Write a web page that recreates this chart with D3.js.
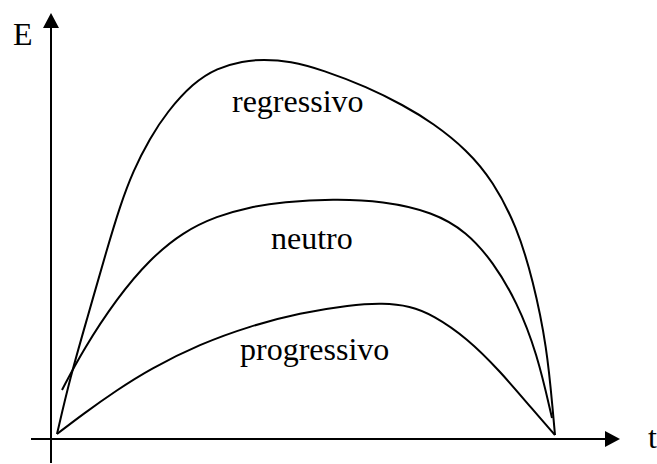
<!DOCTYPE html>
<html>
<head>
<meta charset="utf-8">
<script src="https://cdn.jsdelivr.net/npm/d3@7"></script>
<style>
  body { margin: 0; background: #fff; }
  text { font-family: "Liberation Serif", "Times New Roman", serif; font-size: 32px; fill: #000; }
</style>
</head>
<body>
<script>
// curve points, [t, E]
var regressivo = [[1.2,1.25],[3.8,15.25],[7.2,30],[11.2,47.5],[13.8,58.25],[16.4,67],[19.8,75.25],
  [23.2,81.75],[28.4,89],[33.2,92.75],[38.4,94.5],[42.4,94.9],[47.8,94.5],[54.4,92.25],[63.2,88],
  [70.4,83.5],[76.4,79],[83.2,72.25],[88.4,64.5],[93.2,53],[96.4,39.75],[99.2,23],[100.4,6.5],[100.8,1]];
var neutro = [[2.2,12.25],[6.4,22.25],[13.2,35.25],[19.8,45],[26.4,51.75],[33.2,55.75],[39.8,58],
  [46.4,59.25],[56.4,60],[66.4,59.5],[76.4,56.75],[83.2,51.75],[88.4,44.25],[93.2,34.25],[97.2,21.5],
  [100.2,5.25]];
var progressivo = [[1.2,1.25],[6.4,6.25],[13.2,12.25],[19.8,17.5],[29.8,23.75],[39.8,28.25],[49.8,31.5],
  [59.8,33.5],[66.4,34],[71.8,33.25],[76.4,31],[83.2,25.25],[89.8,17],[96.4,7.25],[100.8,1]];

var labels = [
  {text: "regressivo", t: 36.2, E: 81.75},
  {text: "neutro", t: 44, E: 47.5},
  {text: "progressivo", t: 37.8, E: 19.75}
];

var width = 657, height = 464;

var x = d3.scaleLinear().domain([0, 100]).range([51, 551]);
var y = d3.scaleLinear().domain([0, 100]).range([439, 39]);

var svg = d3.select("body").append("svg")
  .attr("width", width)
  .attr("height", height);

// axes
svg.append("line")
  .attr("x1", x(-4)).attr("y1", y(0))
  .attr("x2", x(111)).attr("y2", y(0))
  .attr("stroke", "#000").attr("stroke-width", 2);
svg.append("line")
  .attr("x1", x(0)).attr("y1", y(-6))
  .attr("x2", x(0)).attr("y2", y(103))
  .attr("stroke", "#000").attr("stroke-width", 2);

// arrow heads
svg.append("path")
  .attr("d", "M" + x(113.8) + "," + y(0) + "L" + x(110.8) + "," + (y(0) - 8) + "L" + x(110.8) + "," + (y(0) + 8) + "Z")
  .attr("fill", "#000");
svg.append("path")
  .attr("d", "M" + x(0) + "," + y(106.5) + "L" + (x(0) - 8) + "," + y(102.75) + "L" + (x(0) + 8) + "," + y(102.75) + "Z")
  .attr("fill", "#000");

svg.append("text").attr("x", x(-7.6)).attr("y", y(98.5)).text("E");
svg.append("text").attr("x", x(119.4)).attr("y", y(-2.25)).text("t");

var line = d3.line()
  .x(function(d) { return x(d[0]); })
  .y(function(d) { return y(d[1]); })
  .curve(d3.curveBasis);

[regressivo, neutro, progressivo].forEach(function(s) {
  svg.append("path")
    .attr("d", line(s))
    .attr("fill", "none")
    .attr("stroke", "#000")
    .attr("stroke-width", 2);
});

svg.selectAll(".lbl")
  .data(labels)
  .enter().append("text")
  .attr("class", "lbl")
  .attr("x", function(d) { return x(d.t); })
  .attr("y", function(d) { return y(d.E); })
  .text(function(d) { return d.text; });
</script>
</body>
</html>
